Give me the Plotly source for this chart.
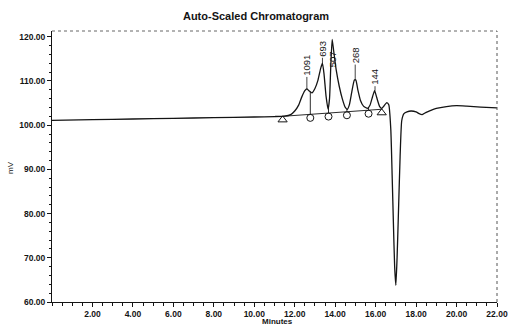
import plotly.graph_objects as go
import numpy as np

# Detector trace (minutes, mV)
time_min = [0.0, 2.0, 4.0, 6.0, 8.0, 10.0, 11.0, 11.5, 11.8, 12.0, 12.2, 12.35, 12.5, 12.6,
            12.7, 12.85, 13.0, 13.15, 13.28, 13.37, 13.45, 13.55, 13.65, 13.72, 13.78,
            13.85, 13.92, 14.05, 14.2, 14.35, 14.5, 14.6, 14.7, 14.82, 14.95, 15.02, 15.12,
            15.25, 15.4, 15.6, 15.72, 15.85, 15.95, 16.05, 16.2, 16.3, 16.42, 16.55, 16.65,
            16.75, 16.82, 16.88, 16.94, 17.0, 17.06, 17.12, 17.21, 17.29, 17.4, 17.55,
            17.75, 18.0, 18.15, 18.3, 18.5, 18.7, 19.0, 19.5, 20.0, 20.5, 21.2, 22.0]
signal_mv = [101.1, 101.25, 101.4, 101.55, 101.7, 101.85, 101.95, 102.05, 102.4, 103.2,
             104.6, 106.4, 107.8, 108.2, 107.8, 107.3, 108.3, 110.2, 112.8, 114.0, 111.5,
             106.5, 103.6, 106.0, 113.0, 119.4, 117.0, 112.5, 108.8, 106.0, 104.0, 103.6,
             104.6, 107.5, 110.2, 110.2, 108.0, 105.6, 104.3, 103.8, 104.5, 106.5, 107.8,
             106.3, 104.2, 103.8, 104.4, 105.1, 104.6, 99.0, 88.0, 77.5, 68.0, 63.8, 70.0,
             79.0, 92.9, 101.0, 102.6, 103.0, 103.2, 103.0, 102.6, 102.4, 102.9, 103.3,
             103.8, 104.2, 104.4, 104.3, 104.1, 103.9]

# Integration baseline and event markers
base_t = [11.4, 16.3]
base_v = [102.0, 103.6]
start_end_t = [11.4, 16.3]
drop_t = [12.77, 13.67, 14.58, 15.65]

# Peak apexes and their labelled areas
peak_t = [12.6, 13.37, 13.87, 14.99, 15.97]
peak_v = [108.2, 114.0, 119.4, 110.2, 107.8]
peak_lbl = ["1091", "693", "507", "268", "144"]

x_ticks = [2, 4, 6, 8, 10, 12, 14, 16, 18, 20, 22]
y_ticks = [60, 70, 80, 90, 100, 110, 120]

ink = "#141414"
FONT = "Liberation Sans"

# plot area in pixels
L, R, T, B = 52, 12, 31, 29
W, H = 509, 331
PW, PH = W - L - R, H - T - B


def baseline_at(t):
    return float(np.interp(t, base_t, base_v))


def trace_at(t):
    return float(np.interp(t, time_min, signal_mv))


fig = go.Figure()

fig.add_trace(go.Scatter(x=time_min, y=signal_mv, mode="lines",
                         line=dict(color=ink, width=1.3, shape="spline", smoothing=0.5),
                         hoverinfo="skip"))

# baseline drawn under the peaks
fig.add_trace(go.Scatter(x=base_t, y=base_v, mode="lines",
                         line=dict(color=ink, width=0.9), hoverinfo="skip"))

# drop lines from baseline to the valleys
for t in drop_t:
    fig.add_trace(go.Scatter(x=[t, t], y=[baseline_at(t), trace_at(t)], mode="lines",
                             line=dict(color=ink, width=0.9), hoverinfo="skip"))

mark_off = 0.8
fig.add_trace(go.Scatter(x=start_end_t, y=[baseline_at(t) - mark_off for t in start_end_t],
                         mode="markers",
                         marker=dict(symbol="triangle-up-open", size=8,
                                     color=ink, line=dict(width=1, color=ink)),
                         hoverinfo="skip"))
fig.add_trace(go.Scatter(x=drop_t, y=[baseline_at(t) - mark_off for t in drop_t],
                         mode="markers",
                         marker=dict(symbol="circle-open", size=7,
                                     color=ink, line=dict(width=1, color=ink)),
                         hoverinfo="skip"))

# rotated peak labels
offsets = [-24, -15, None, -25, -14]
for t, v, lbl, off in zip(peak_t, peak_v, peak_lbl, offsets):
    if off is None:
        fig.add_annotation(x=t, y=v - 4.6, text=lbl, showarrow=False, textangle=-90,
                           font=dict(family=FONT, size=9.5, color=ink))
    else:
        fig.add_annotation(x=t, y=v, text=lbl, showarrow=True, arrowhead=0,
                           arrowwidth=0.8, arrowcolor=ink, ax=0, ay=off, textangle=-90,
                           font=dict(family=FONT, size=9.5, color=ink))

# axis captions, positioned in pixel terms
fig.add_annotation(x=(277 - L) / PW, y=-(322 - (H - B)) / PH, xref="paper", yref="paper",
                   text="<b>Minutes</b>", showarrow=False, xanchor="center",
                   yanchor="middle", font=dict(family=FONT, size=8, color=ink))
fig.add_annotation(x=-(L - 10) / PW, y=((H - B) - 168) / PH, xref="paper", yref="paper",
                   text="mV", showarrow=False, textangle=-90, xanchor="center",
                   yanchor="middle", font=dict(family=FONT, size=8, color=ink))

fig.update_layout(
    width=W, height=H,
    margin=dict(l=L, r=R, t=T, b=B, autoexpand=False),
    paper_bgcolor="white", plot_bgcolor="white",
    showlegend=False,
    title=dict(text="<b>Auto-Scaled Chromatogram</b>", x=256 / W, xanchor="center",
               xref="container", y=1 - 16 / H, yref="container", yanchor="middle",
               font=dict(family=FONT, size=11, color=ink)),
    font=dict(family=FONT, color=ink),
)

fig.update_xaxes(range=[0, 22], tickvals=x_ticks,
                 ticktext=[f"<b>{v:.2f}</b>" for v in x_ticks],
                 ticks="outside", ticklen=4, tickwidth=1, tickcolor=ink,
                 minor=dict(dtick=0.5, tick0=0, ticks="outside", ticklen=2.5,
                            tickcolor=ink, tickwidth=1),
                 showline=True, linecolor=ink, linewidth=1, mirror=False,
                 showgrid=False, zeroline=False, automargin=False,
                 tickfont=dict(family=FONT, size=8.5, color=ink))
fig.update_yaxes(range=[60, 121.3], tickvals=y_ticks,
                 ticktext=[f"<b>{v:.2f}</b>" for v in y_ticks],
                 ticks="outside", ticklen=4, tickwidth=1, tickcolor=ink,
                 minor=dict(dtick=2, tick0=60, ticks="outside", ticklen=2.5,
                            tickcolor=ink, tickwidth=1),
                 showline=True, linecolor=ink, linewidth=1, mirror=False,
                 showgrid=False, zeroline=False, automargin=False,
                 tickfont=dict(family=FONT, size=8.5, color=ink))

# dotted frame on the top and right
fig.add_shape(type="line", xref="paper", yref="paper", x0=0, x1=1, y0=1, y1=1,
              line=dict(color="#666666", width=1, dash="dot"))
fig.add_shape(type="line", xref="paper", yref="paper", x0=1, x1=1, y0=0, y1=1,
              line=dict(color="#555555", width=1, dash="dot"))

fig.write_html("out.html")
